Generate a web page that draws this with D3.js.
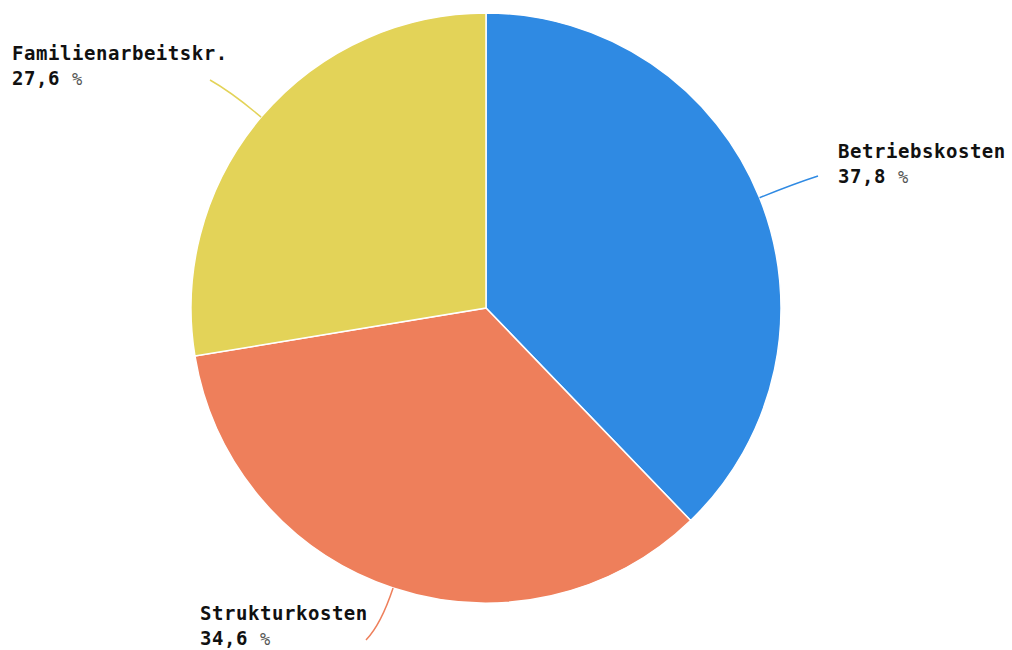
<!DOCTYPE html>
<html>
<head>
<meta charset="utf-8">
<script src="https://cdn.jsdelivr.net/npm/d3@7"></script>
<style>
  body { margin: 0; background: #fff; }
  .lbl { font-family: "DejaVu Sans Mono", monospace; font-weight: bold; font-size: 19px; letter-spacing: 0.55px; fill: #111; }
  .pct { font-weight: normal; font-size: 17px; fill: #555; }
</style>
</head>
<body>
<div id="chart"></div>
<script>
const categories = ["Betriebskosten", "Strukturkosten", "Familienarbeitskr."];
const shares = [37.8, 34.6, 27.6];
const colors = ["#2f8ae3", "#ee7f5b", "#e3d358"];

const width = 1012, height = 650;
const cx = 486, cy = 308, radius = 295;

// leader line end and label block offsets (layout only)
const labelLayout = {
    "Betriebskosten":     { end: [818, 176], text: [838, 158] },
    "Strukturkosten":     { end: [366, 640], text: [200, 620] },
    "Familienarbeitskr.": { end: [210, 80],  text: [12, 60] }
};

const svg = d3.select("#chart").append("svg").attr("width", width).attr("height", height);
const g = svg.append("g").attr("transform", `translate(${cx},${cy})`);

const data = categories.map((c, i) => ({ name: c, value: shares[i], color: colors[i] }));
const pie = d3.pie().sort(null).value(d => d.value);
const arc = d3.arc().innerRadius(0).outerRadius(radius);
const arcs = pie(data);

g.selectAll("path.slice").data(arcs).enter().append("path")
    .attr("class", "slice")
    .attr("d", arc)
    .attr("fill", d => d.data.color)
    .attr("stroke", "#fff")
    .attr("stroke-width", 1.5);

const fmt = v => v.toFixed(1).replace(".", ",");

arcs.forEach(a => {
    const mid = (a.startAngle + a.endAngle) / 2;
    const p0 = [cx + radius * Math.sin(mid), cy - radius * Math.cos(mid)];
    const pc = [cx + radius * 1.13 * Math.sin(mid), cy - radius * 1.13 * Math.cos(mid)];
    const lay = labelLayout[a.data.name];
    const path = d3.path();
    path.moveTo(p0[0], p0[1]);
    path.quadraticCurveTo(pc[0], pc[1], lay.end[0], lay.end[1]);
    svg.append("path").attr("d", path.toString())
        .attr("fill", "none").attr("stroke", a.data.color).attr("stroke-width", 1.5);

    const t = svg.append("text").attr("class", "lbl")
        .attr("x", lay.text[0]).attr("y", lay.text[1]);
    t.append("tspan").attr("x", lay.text[0]).text(a.data.name);
    t.append("tspan").attr("x", lay.text[0]).attr("dy", 25).text(fmt(a.data.value) + " ");
    t.append("tspan").attr("class", "pct").text("%");
});
</script>
</body>
</html>
